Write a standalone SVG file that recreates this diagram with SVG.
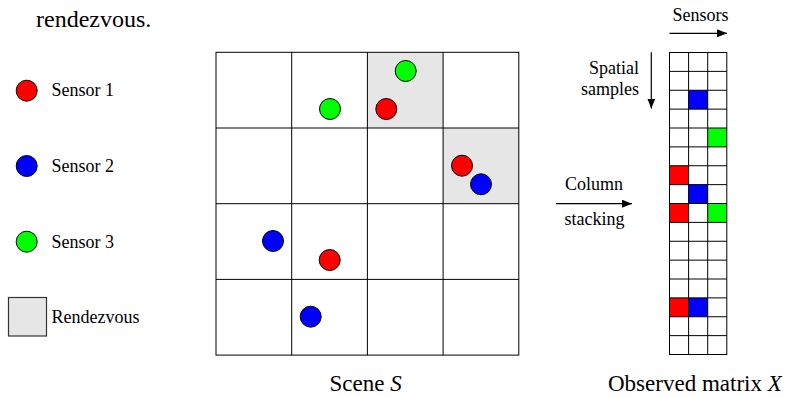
<svg xmlns="http://www.w3.org/2000/svg" width="790" height="397" viewBox="0 0 790 397" font-family="'Liberation Serif', 'Times New Roman', 'DejaVu Serif', serif">
<defs>
<style>
.t18{font-size:18px;font-family:'Liberation Serif','Times New Roman','DejaVu Serif',serif}
.t24{font-size:24px;font-family:'Liberation Serif','Times New Roman','DejaVu Serif',serif}
.t23{font-size:23px;font-family:'Liberation Serif','Times New Roman','DejaVu Serif',serif}
.grid{stroke:#000;stroke-width:1;fill:none}
.dot{stroke:#000;stroke-width:1}
.s1{fill:#ff0000}
.s2{fill:#0000ff}
.s3{fill:#00ff00}
.rdv{fill:#e6e6e6}
.arrow{stroke:#000;stroke-width:1.2;fill:none;marker-end:url(#ah)}
</style>
<marker id="ah" viewBox="0 0 10 8" refX="10" refY="4" markerWidth="10" markerHeight="8" markerUnits="userSpaceOnUse" orient="auto">
<path d="M0,0 L10,4 L0,8 Z" fill="#000"/>
</marker>
</defs>
<rect width="790" height="397" fill="#fff"/>

<g id="caption-top">
<text class="t24" x="36" y="27">rendezvous.</text>
</g>

<g id="legend">
<g id="legend-sensor1">
<circle class="dot s1" cx="26.7" cy="90.7" r="10.5"/>
<text class="t18" x="51.5" y="96">Sensor 1</text>
</g>
<g id="legend-sensor2">
<circle class="dot s2" cx="26.7" cy="166" r="10.5"/>
<text class="t18" x="51.5" y="172">Sensor 2</text>
</g>
<g id="legend-sensor3">
<circle class="dot s3" cx="26.7" cy="241.7" r="10.5"/>
<text class="t18" x="51.5" y="248">Sensor 3</text>
</g>
<g id="legend-rendezvous">
<rect class="rdv" x="8.5" y="297.5" width="38" height="38.5" stroke="#333" stroke-width="1.2"/>
<text class="t18" x="51.5" y="323">Rendezvous</text>
</g>
</g>

<g id="scene">
<rect class="rdv" x="367.4" y="52.3" width="75.7" height="75.7"/>
<rect class="rdv" x="443.1" y="128" width="75.7" height="75.7"/>
<rect class="grid" x="216" y="52.3" width="302.8" height="302.8"/>
<path class="grid" d="M291.7,52.3V355.1M367.4,52.3V355.1M443.1,52.3V355.1M216,128H518.8M216,203.7H518.8M216,279.4H518.8"/>
<circle class="dot s3" cx="405.7" cy="71" r="10.5"/>
<circle class="dot s3" cx="330" cy="109" r="10.5"/>
<circle class="dot s1" cx="386.3" cy="109" r="10.5"/>
<circle class="dot s1" cx="462" cy="165.7" r="10.5"/>
<circle class="dot s2" cx="481" cy="184.3" r="10.5"/>
<circle class="dot s2" cx="273" cy="241" r="10.5"/>
<circle class="dot s1" cx="329.7" cy="260" r="10.5"/>
<circle class="dot s2" cx="310.7" cy="316.7" r="10.5"/>
<text class="t23" x="329.5" y="391">Scene <tspan font-style="italic">S</tspan></text>
</g>

<g id="matrix">
<rect class="s2" x="688.6" y="90.25" width="19.1" height="18.875"/>
<rect class="s3" x="707.7" y="128" width="19.1" height="18.875"/>
<rect class="s1" x="669.5" y="165.75" width="19.1" height="18.875"/>
<rect class="s2" x="688.6" y="184.625" width="19.1" height="18.875"/>
<rect class="s1" x="669.5" y="203.5" width="19.1" height="18.875"/>
<rect class="s3" x="707.7" y="203.5" width="19.1" height="18.875"/>
<rect class="s1" x="669.5" y="297.875" width="19.1" height="18.875"/>
<rect class="s2" x="688.6" y="297.875" width="19.1" height="18.875"/>
<rect class="grid" x="669.5" y="52.5" width="57.3" height="302"/>
<path class="grid" d="M688.6,52.5V354.5M707.7,52.5V354.5
M669.5,71.375H726.8M669.5,90.25H726.8M669.5,109.125H726.8M669.5,128H726.8M669.5,146.875H726.8M669.5,165.75H726.8M669.5,184.625H726.8M669.5,203.5H726.8M669.5,222.375H726.8M669.5,241.25H726.8M669.5,260.125H726.8M669.5,279H726.8M669.5,297.875H726.8M669.5,316.75H726.8M669.5,335.625H726.8"/>
<text class="t23" x="608" y="391">Observed matrix <tspan font-style="italic">X</tspan></text>
</g>

<g id="labels">
<text class="t18" x="672.5" y="21">Sensors</text>
<text class="t18" x="639" y="74" text-anchor="end">Spatial</text>
<text class="t18" x="639" y="95" text-anchor="end">samples</text>
<text class="t18" x="565" y="190">Column</text>
<text class="t18" x="564.5" y="225">stacking</text>
</g>

<g id="connectors">
<line class="arrow" x1="669.5" y1="33.3" x2="727" y2="33.3"/>
<line class="arrow" x1="651.3" y1="52.3" x2="651.3" y2="108.5"/>
<line class="arrow" x1="556" y1="203.7" x2="632" y2="203.7"/>
</g>
</svg>
